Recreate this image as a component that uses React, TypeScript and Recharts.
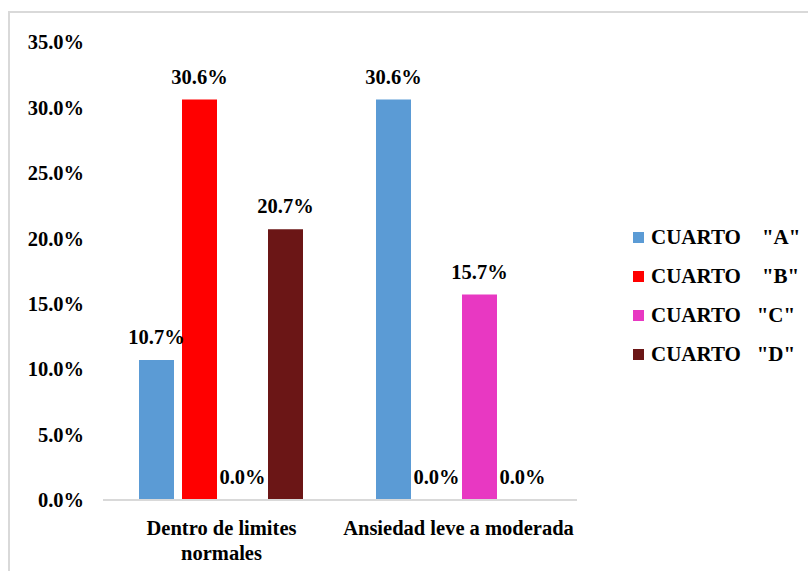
import { BarChart, Bar, XAxis, YAxis, LabelList } from "recharts";

const categories = ["Dentro de limites normales", "Ansiedad leve a moderada"];
const cuartoA = [10.7, 30.6];
const cuartoB = [30.6, 0.0];
const cuartoC = [0.0, 15.7];
const cuartoD = [20.7, 0.0];
const yTicks = [0, 5, 10, 15, 20, 25, 30, 35];

const series = [
  { key: "a", name: 'CUARTO    "A"', values: cuartoA, color: "#5B9BD5" },
  { key: "b", name: 'CUARTO    "B"', values: cuartoB, color: "#FF0000" },
  { key: "c", name: 'CUARTO   "C"', values: cuartoC, color: "#E838C2" },
  { key: "d", name: 'CUARTO   "D"', values: cuartoD, color: "#6B1616" },
];

const data = categories.map((name, i) => {
  const row: Record<string, string | number> = { name };
  series.forEach((s) => (row[s.key] = s.values[i]));
  return row;
});

const FONT = '"Liberation Serif", "Times New Roman", serif';
const pct = (v: number) => `${Number(v).toFixed(1)}%`;
const textStyle = { fontFamily: FONT, fontWeight: 700, fontSize: 20.5, fill: "#000" };

// split long category names into lines (like Excel's wrap)
function wrapLabel(label: string, maxChars: number) {
  const lines: string[] = [];
  let cur = "";
  label.split(" ").forEach((w) => {
    const next = cur ? cur + " " + w : w;
    if (next.length > maxChars && cur) {
      lines.push(cur);
      cur = w;
    } else cur = next;
  });
  if (cur) lines.push(cur);
  return lines;
}

function CategoryTick(props: any) {
  const { x, y, payload } = props;
  const lines = wrapLabel(String(payload.value), 24);
  return (
    <text x={x} y={y + 27} textAnchor="middle" style={textStyle}>
      {lines.map((l, i) => (
        <tspan key={i} x={x} dy={i === 0 ? 0 : 25}>
          {l}
        </tspan>
      ))}
    </text>
  );
}

export default function App() {
  return (
    <div
      style={{
        position: "absolute",
        left: 0,
        top: 0,
        width: 808,
        height: 571,
        background: "#fff",
        overflow: "hidden",
        fontFamily: FONT,
      }}
    >
      <div
        style={{
          position: "absolute",
          left: 8,
          top: 11,
          width: 820,
          height: 580,
          borderTop: "2px solid #d9d9d9",
          borderLeft: "2px solid #d9d9d9",
        }}
      />
      <div style={{ position: "absolute", left: 0, top: 0 }}>
        <BarChart
          width={808}
          height={571}
          data={data}
          margin={{ top: 42, right: 231, bottom: 0, left: 23 }}
          barCategoryGap={36}
          barGap={8}
        >
          <XAxis
            dataKey="name"
            height={71}
            axisLine={{ stroke: "#d9d9d9", strokeWidth: 2 }}
            tickLine={false}
            tick={<CategoryTick />}
            interval={0}
          />
          <YAxis
            width={80}
            domain={[0, 35]}
            ticks={yTicks}
            axisLine={false}
            tickLine={false}
            tickSize={0}
            tickMargin={19}
            tickFormatter={pct}
            tick={textStyle}
          />
          {series.map((s) => (
            <Bar
              key={s.key}
              dataKey={s.key}
              name={s.name}
              fill={s.color}
              minPointSize={0.01}
              isAnimationActive={false}
            >
              <LabelList
                dataKey={s.key}
                position="top"
                offset={16}
                formatter={(v: any) => pct(v)}
                style={textStyle}
              />
            </Bar>
          ))}
        </BarChart>
      </div>
      <div style={{ position: "absolute", left: 633, top: 218 }}>
        {series.map((s) => (
          <div
            key={s.key}
            style={{ display: "flex", alignItems: "center", height: 39, whiteSpace: "pre" }}
          >
            <span
              style={{ width: 11, height: 11, background: s.color, marginRight: 7, display: "inline-block" }}
            />
            <span style={{ fontFamily: FONT, fontWeight: 700, fontSize: 21, color: "#000" }}>{s.name}</span>
          </div>
        ))}
      </div>
    </div>
  );
}
